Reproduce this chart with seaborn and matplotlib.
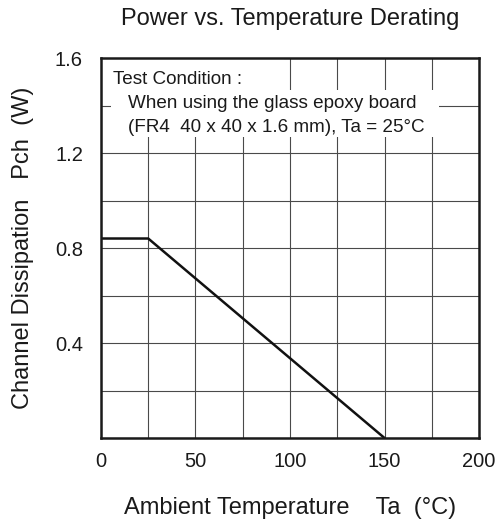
import numpy as np
import pandas as pd
import matplotlib
matplotlib.use("Agg")
import matplotlib.pyplot as plt
from matplotlib.patches import Rectangle
from matplotlib.ticker import MultipleLocator
import seaborn as sns

# derating curve
temp_c = [0, 25, 150]
power_w = [0.84, 0.84, 0.0]

x_ticks = [0, 50, 100, 150, 200]
y_ticks = [0.4, 0.8, 1.2, 1.6]

note_lines = [
    "Test Condition :",
    "When using the glass epoxy board",
    "(FR4  40 x 40 x 1.6 mm), Ta = 25\u00b0C",
]

sns.set_theme(style="white")
plt.rcParams["font.family"] = ["Liberation Sans", "DejaVu Sans"]

df = pd.DataFrame({"Ta": temp_c, "Pch": power_w})

fig = plt.figure(figsize=(4.97, 5.25), dpi=100)
ax = fig.add_axes([0.2032, 0.1657, 0.9638 - 0.2032, 0.8895 - 0.1657])

sns.lineplot(data=df, x="Ta", y="Pch", color="#111111", lw=1.8, ax=ax, zorder=5)

ax.set_xlim(0, 200)
ax.set_ylim(0, 1.6)
ax.set_xticks(x_ticks)
ax.set_yticks(y_ticks)
ax.xaxis.set_minor_locator(MultipleLocator(25))
ax.yaxis.set_minor_locator(MultipleLocator(0.2))
ax.grid(True, which="both", color="#4a4a4a", lw=0.8)
ax.tick_params(axis="both", which="both", length=0, labelsize=14.5, colors="#1a1a1a")
ax.tick_params(axis="x", pad=10)
ax.tick_params(axis="y", pad=13)

for s in ax.spines.values():
    s.set_color("#1a1a1a")
    s.set_linewidth(1.8)
    s.set_zorder(6)

ax.set_xlabel("Ambient Temperature    Ta  (\u00b0C)", fontsize=17, labelpad=19, color="#1a1a1a")
ax.set_ylabel("Channel Dissipation   Pch  (W)", fontsize=17, labelpad=15, color="#1a1a1a")
ax.set_title("Power vs. Temperature Derating", fontsize=17, pad=24, color="#1a1a1a")

# white blanking behind the note, stepped like the original
ax.add_patch(Rectangle((0, 1.465), 97, 0.135, fc="white", ec="none", zorder=3))
ax.add_patch(Rectangle((5.3, 1.267), 173.7, 0.198, fc="white", ec="none", zorder=3))

note_x = [6.3, 14.3, 14.3]
note_y = [1.491, 1.389, 1.288]
for txt, xx, yy in zip(note_lines, note_x, note_y):
    ax.text(xx, yy, txt, fontsize=13.6, color="#1a1a1a", va="baseline", ha="left", zorder=4)

fig.savefig("out.png", dpi=100)
